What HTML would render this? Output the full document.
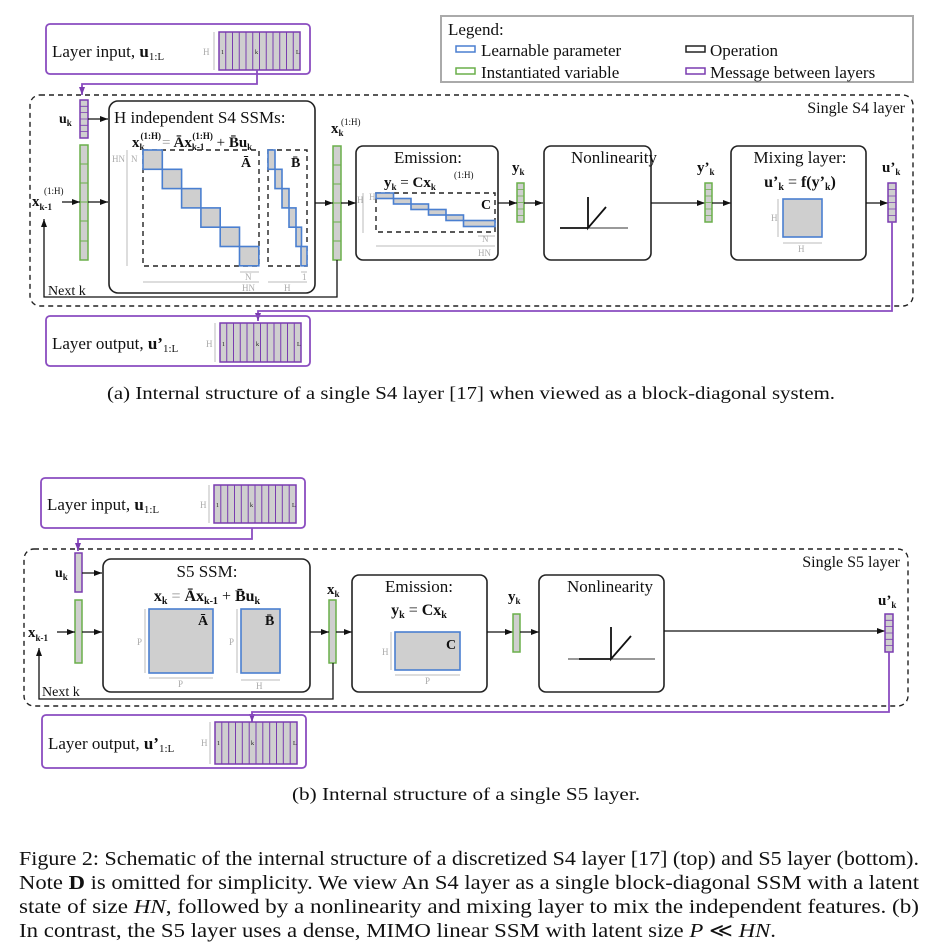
<!DOCTYPE html>
<html><head><meta charset="utf-8"><style>
html,body{margin:0;padding:0;background:#fff;}
svg{display:block;font-family:"Liberation Serif",serif;}
.t{font-size:17px;fill:#111;}
.m{fill:#111;}
.g{font-size:9px;fill:#aaa;}
.b{font-weight:bold;}
.box{fill:none;stroke:#222;stroke-width:1.6;}
.dash{fill:none;stroke:#222;stroke-width:1.4;stroke-dasharray:5,4;}
.pur{fill:none;stroke:#8a4cc0;stroke-width:1.8;}
.ln{fill:none;stroke:#111;stroke-width:1.3;}
.gr{fill:none;stroke:#bbb;stroke-width:1;}
.blu{fill:#cfcfcf;stroke:#4a7fd0;stroke-width:1.6;}
</style></head><body>
<svg width="950" height="950" viewBox="0 0 950 950" xmlns="http://www.w3.org/2000/svg">
<defs>
<marker id="ar" markerWidth="8" markerHeight="6" refX="8" refY="3" orient="auto" markerUnits="userSpaceOnUse"><path d="M0,0L8,3L0,6z" fill="#111"/></marker>
<marker id="ap" markerWidth="8" markerHeight="6" refX="8" refY="3" orient="auto" markerUnits="userSpaceOnUse"><path d="M0,0L8,3L0,6z" fill="#7a3cb0"/></marker>
</defs>

<!-- ============ TOP (a) ============ -->
<rect x="46" y="24" width="264" height="50" rx="4" class="pur"/>
<text x="52" y="57" class="t">Layer input, <tspan class="b">u</tspan><tspan font-size="11" dy="3">1:L</tspan></text>
<path d="M214,32v38" class="gr"/><text x="203" y="55" class="g">H</text>
<g transform="translate(219,32)">
<rect width="81" height="38" fill="#cfcfcf" stroke="#7a3cb0" stroke-width="1.5"/>
<path d="M6.75,0v38M13.5,0v38M20.25,0v38M27,0v38M33.75,0v38M40.5,0v38M47.25,0v38M54,0v38M60.75,0v38M67.5,0v38M74.25,0v38" stroke="#7a3cb0" stroke-width="1"/>
</g>
<text x="221" y="54" font-size="6" fill="#111">1</text><text x="255" y="54" font-size="6" fill="#111">k</text><text x="296" y="54" font-size="6" fill="#111">L</text>
<path d="M257,70V84H82V95" class="pur" marker-end="url(#ap)"/>

<!-- legend -->
<rect x="441" y="16" width="472" height="66" fill="none" stroke="#aaa" stroke-width="2"/>
<text x="448" y="35" class="t">Legend:</text>
<rect x="456" y="46" width="19" height="6" fill="none" stroke="#4a7fd0" stroke-width="1.5"/>
<text x="481" y="56" class="t">Learnable parameter</text>
<rect x="456" y="68" width="19" height="6" fill="none" stroke="#6aaf4a" stroke-width="1.5"/>
<text x="481" y="78" class="t">Instantiated variable</text>
<rect x="686" y="46" width="19" height="6" fill="none" stroke="#222" stroke-width="1.5"/>
<text x="710" y="56" class="t">Operation</text>
<rect x="686" y="68" width="19" height="6" fill="none" stroke="#7a3cb0" stroke-width="1.5"/>
<text x="710" y="78" class="t">Message between layers</text>

<rect x="30" y="95" width="883" height="211" rx="10" class="dash"/>
<text x="905" y="113" class="m" font-size="16" text-anchor="end">Single S4 layer</text>

<!-- u_k, x_{k-1} -->
<text x="59" y="123" class="m b" font-size="14">u<tspan font-size="9" dy="3">k</tspan></text>
<rect x="80" y="100" width="8" height="38" fill="#cfcfcf" stroke="#7a3cb0" stroke-width="1.5"/>
<path d="M80,106.3h8M80,112.6h8M80,119h8M80,125.3h8M80,131.6h8" stroke="#7a3cb0" stroke-width="0.8"/>
<rect x="80" y="145" width="8" height="115" fill="#cfcfcf" stroke="#6aaf4a" stroke-width="1.5"/>
<path d="M80,164h8M80,183h8M80,202h8M80,221h8M80,241h8" stroke="#6aaf4a" stroke-width="1"/>
<text x="32" y="206" class="m b" font-size="15">x<tspan font-size="9" dy="4">k-1</tspan></text>
<text x="44" y="194" font-size="9" fill="#111">(1:H)</text>
<path d="M62,202H80" class="ln" marker-end="url(#ar)"/>
<path d="M88,202H108" class="ln" marker-end="url(#ar)"/>
<path d="M88,119H108" class="ln" marker-end="url(#ar)"/>

<!-- S4 SSMs box -->
<rect x="109" y="101" width="206" height="192" rx="9" class="box"/>
<text x="114" y="123" class="t">H independent S4 SSMs:</text>
<text x="132" y="147" class="m b" font-size="15">x<tspan font-size="9" dy="3">k</tspan><tspan font-size="9" dy="-11" dx="-4">(1:H)</tspan><tspan dy="8" dx="1" font-weight="normal" fill="#999">=</tspan><tspan dx="3">Āx</tspan><tspan font-size="9" dy="3">k-1</tspan><tspan font-size="9" dy="-11" dx="-12">(1:H)</tspan><tspan dy="8" font-weight="normal"> + </tspan><tspan>B̄u</tspan><tspan font-size="9" dy="3">k</tspan></text>
<path d="M127,150v116" class="gr"/><text x="112" y="162" class="g">HN</text><text x="131" y="162" class="g">N</text>
<rect x="143" y="150" width="116" height="116" class="dash"/>
<g class="blu">
<rect x="143" y="150" width="19.3" height="19.3"/><rect x="162.3" y="169.3" width="19.3" height="19.3"/><rect x="181.6" y="188.6" width="19.3" height="19.3"/><rect x="200.9" y="207.9" width="19.3" height="19.3"/><rect x="220.2" y="227.2" width="19.3" height="19.3"/><rect x="239.5" y="246.5" width="19.3" height="19.3"/>
</g>
<text x="241" y="167" class="m b" font-size="14">Ā</text>
<rect x="268" y="150" width="39" height="116" class="dash"/>
<g class="blu">
<rect x="268" y="150" width="7" height="19.3"/><rect x="275" y="169.3" width="7" height="19.3"/><rect x="282" y="188.6" width="7" height="19.3"/><rect x="289" y="207.9" width="7" height="19.3"/><rect x="296" y="227.2" width="5.5" height="19.3"/><rect x="301" y="246.5" width="6" height="19.3"/>
</g>
<text x="291" y="167" class="m b" font-size="14">B̄</text>
<path d="M143,282H259M240,272H259M268,282H307M301,272H307" class="gr"/>
<text x="245" y="280" class="g">N</text><text x="242" y="291" class="g">HN</text><text x="284" y="291" class="g">H</text><text x="302" y="280" class="g">1</text>

<!-- x_k -->
<text x="331" y="133" class="m b" font-size="15">x<tspan font-size="9" dy="3">k</tspan></text>
<text x="341" y="125" font-size="9" fill="#111">(1:H)</text>
<rect x="333" y="146" width="8" height="114" fill="#cfcfcf" stroke="#6aaf4a" stroke-width="1.5"/>
<path d="M333,165h8M333,184h8M333,203h8M333,222h8M333,241h8" stroke="#6aaf4a" stroke-width="1"/>
<path d="M315,203H333" class="ln" marker-end="url(#ar)"/>
<path d="M341,203H356" class="ln" marker-end="url(#ar)"/>
<path d="M337,260V297H44V219" class="ln" marker-end="url(#ar)"/>
<text x="48" y="295" class="m" font-size="14">Next k</text>

<!-- Emission -->
<rect x="356" y="146" width="142" height="114" rx="7" class="box"/>
<text x="428" y="163" class="t" text-anchor="middle">Emission:</text>
<text x="384" y="187" class="m b" font-size="15">y<tspan font-size="9" dy="3">k</tspan><tspan dy="-3" font-weight="normal"> = </tspan>Cx<tspan font-size="9" dy="3">k</tspan></text>
<text x="454" y="178" font-size="9" fill="#111">(1:H)</text>
<path d="M363,193v40" class="gr"/><text x="357" y="203" class="g">H</text><text x="369" y="200" class="g">H</text>
<rect x="376" y="193" width="119" height="39" class="dash"/>
<g class="blu">
<rect x="376" y="193" width="17.5" height="5.5"/><rect x="393.5" y="198.5" width="17.5" height="5.5"/><rect x="411" y="204" width="17.5" height="5.5"/><rect x="428.5" y="209.5" width="17.5" height="5.5"/><rect x="446" y="215" width="17.5" height="5.5"/><rect x="463.5" y="220.5" width="31.5" height="6"/>
</g>
<text x="481" y="209" class="m b" font-size="14">C</text>
<path d="M376,246H495M478,236H495" class="gr"/><text x="482" y="242" class="g">N</text><text x="478" y="256" class="g">HN</text>

<!-- y_k -->
<text x="512" y="172" class="m b" font-size="15">y<tspan font-size="9" dy="3">k</tspan></text>
<rect x="517" y="183" width="7" height="39" fill="#cfcfcf" stroke="#6aaf4a" stroke-width="1.5"/>
<path d="M517,189.5h7M517,196h7M517,202.5h7M517,209h7M517,215.5h7" stroke="#6aaf4a" stroke-width="0.8"/>
<path d="M498,203H517" class="ln" marker-end="url(#ar)"/>
<path d="M524,203H543" class="ln" marker-end="url(#ar)"/>

<!-- Nonlinearity -->
<rect x="544" y="146" width="107" height="114" rx="7" class="box"/>
<text x="614" y="163" class="t" text-anchor="middle">Nonlinearity</text>
<path d="M570,228H628" stroke="#333" stroke-width="1"/>
<path d="M560,228H588M588,197V228L606,207" stroke="#111" stroke-width="1.8" fill="none"/>
<path d="M651,203H705" class="ln" marker-end="url(#ar)"/>

<!-- y'_k -->
<text x="697" y="172" class="m b" font-size="15">y’<tspan font-size="9" dy="3">k</tspan></text>
<rect x="705" y="183" width="7" height="39" fill="#cfcfcf" stroke="#6aaf4a" stroke-width="1.5"/>
<path d="M705,189.5h7M705,196h7M705,202.5h7M705,209h7M705,215.5h7" stroke="#6aaf4a" stroke-width="0.8"/>
<path d="M712,203H731" class="ln" marker-end="url(#ar)"/>

<!-- Mixing -->
<rect x="731" y="146" width="135" height="114" rx="7" class="box"/>
<text x="800" y="163" class="t" text-anchor="middle">Mixing layer:</text>
<text x="800" y="187" class="m b" font-size="16" text-anchor="middle">u’<tspan font-size="10" dy="3">k</tspan><tspan dy="-3" font-weight="normal"> = </tspan>f(y’<tspan font-size="10" dy="3">k</tspan><tspan dy="-3">)</tspan></text>
<rect x="783" y="199" width="39" height="38" class="blu"/>
<path d="M778,199v38M783,243H822" class="gr"/><text x="771" y="221" class="g">H</text><text x="798" y="252" class="g">H</text>
<path d="M866,203H888" class="ln" marker-end="url(#ar)"/>

<!-- u'_k -->
<text x="882" y="172" class="m b" font-size="15">u’<tspan font-size="9" dy="3">k</tspan></text>
<rect x="888" y="183" width="8" height="39" fill="#cfcfcf" stroke="#7a3cb0" stroke-width="1.5"/>
<path d="M888,189.5h8M888,196h8M888,202.5h8M888,209h8M888,215.5h8" stroke="#7a3cb0" stroke-width="0.8"/>
<path d="M892,222V311H258V321" class="pur" stroke-width="1.3" marker-end="url(#ap)"/>

<!-- Layer output -->
<rect x="46" y="316" width="264" height="50" rx="4" class="pur"/>
<text x="52" y="349" class="t">Layer output, <tspan class="b">u’</tspan><tspan font-size="11" dy="3">1:L</tspan></text>
<path d="M215,323v39" class="gr"/><text x="206" y="347" class="g">H</text>
<g transform="translate(220,323)">
<rect width="81" height="39" fill="#cfcfcf" stroke="#7a3cb0" stroke-width="1.5"/>
<path d="M6.75,0v39M13.5,0v39M20.25,0v39M27,0v39M33.75,0v39M40.5,0v39M47.25,0v39M54,0v39M60.75,0v39M67.5,0v39M74.25,0v39" stroke="#7a3cb0" stroke-width="1"/>
</g>
<text x="222" y="346" font-size="6" fill="#111">1</text><text x="256" y="346" font-size="6" fill="#111">k</text><text x="297" y="346" font-size="6" fill="#111">L</text>

<text x="107" y="399" class="m" font-size="18" textLength="728" lengthAdjust="spacingAndGlyphs">(a) Internal structure of a single S4 layer [17] when viewed as a block-diagonal system.</text>

<!-- ============ BOTTOM (b) ============ -->
<rect x="41" y="478" width="264" height="50" rx="4" class="pur"/>
<text x="47" y="510" class="t">Layer input, <tspan class="b">u</tspan><tspan font-size="11" dy="3">1:L</tspan></text>
<path d="M209,485v38" class="gr"/><text x="200" y="508" class="g">H</text>
<g transform="translate(214,485)">
<rect width="82" height="38" fill="#cfcfcf" stroke="#7a3cb0" stroke-width="1.5"/>
<path d="M6.8,0v38M13.7,0v38M20.5,0v38M27.3,0v38M34.2,0v38M41,0v38M47.8,0v38M54.7,0v38M61.5,0v38M68.3,0v38M75.2,0v38" stroke="#7a3cb0" stroke-width="1"/>
</g>
<text x="216" y="507" font-size="6" fill="#111">1</text><text x="250" y="507" font-size="6" fill="#111">k</text><text x="292" y="507" font-size="6" fill="#111">L</text>
<path d="M252,528V539H78V551" class="pur" marker-end="url(#ap)"/>

<rect x="24" y="549" width="884" height="157" rx="10" class="dash"/>
<text x="900" y="567" class="m" font-size="16" text-anchor="end">Single S5 layer</text>

<text x="55" y="577" class="m b" font-size="14">u<tspan font-size="9" dy="3">k</tspan></text>
<rect x="75" y="553" width="7" height="39" fill="#cfcfcf" stroke="#7a3cb0" stroke-width="1.5"/>
<rect x="75" y="600" width="7" height="63" fill="#cfcfcf" stroke="#6aaf4a" stroke-width="1.5"/>
<text x="28" y="637" class="m b" font-size="15">x<tspan font-size="9" dy="4">k-1</tspan></text>
<path d="M57,632H75" class="ln" marker-end="url(#ar)"/>
<path d="M82,632H102" class="ln" marker-end="url(#ar)"/>
<path d="M82,573H102" class="ln" marker-end="url(#ar)"/>

<rect x="103" y="559" width="207" height="133" rx="8" class="box"/>
<text x="207" y="577" class="t" text-anchor="middle">S5 SSM:</text>
<text x="207" y="601" class="m b" font-size="16" text-anchor="middle">x<tspan font-size="10" dy="3">k</tspan><tspan dy="-3" font-weight="normal" fill="#888"> = </tspan>Āx<tspan font-size="10" dy="3">k-1</tspan><tspan dy="-3" font-weight="normal"> + </tspan>B̄u<tspan font-size="10" dy="3">k</tspan></text>
<rect x="149" y="609" width="64" height="64" class="blu"/>
<text x="198" y="625" class="m b" font-size="14">Ā</text>
<path d="M145,609v64M149,678H213" class="gr"/><text x="137" y="645" class="g">P</text><text x="178" y="687" class="g">P</text>
<rect x="241" y="609" width="39" height="64" class="blu"/>
<text x="265" y="625" class="m b" font-size="14">B̄</text>
<path d="M237,609v64M241,680H280" class="gr"/><text x="229" y="645" class="g">P</text><text x="256" y="689" class="g">H</text>

<text x="327" y="594" class="m b" font-size="15">x<tspan font-size="9" dy="3">k</tspan></text>
<rect x="329" y="600" width="7" height="63" fill="#cfcfcf" stroke="#6aaf4a" stroke-width="1.5"/>
<path d="M310,632H329" class="ln" marker-end="url(#ar)"/>
<path d="M336,632H352" class="ln" marker-end="url(#ar)"/>
<path d="M333,663V699H39V648" class="ln" marker-end="url(#ar)"/>
<text x="42" y="696" class="m" font-size="14">Next k</text>

<rect x="352" y="575" width="135" height="117" rx="7" class="box"/>
<text x="419" y="592" class="t" text-anchor="middle">Emission:</text>
<text x="419" y="615" class="m b" font-size="16" text-anchor="middle">y<tspan font-size="10" dy="3">k</tspan><tspan dy="-3" font-weight="normal"> = </tspan>Cx<tspan font-size="10" dy="3">k</tspan></text>
<rect x="395" y="632" width="65" height="38" class="blu"/>
<text x="446" y="649" class="m b" font-size="14">C</text>
<path d="M391,632v38M395,675H460" class="gr"/><text x="382" y="655" class="g">H</text><text x="425" y="684" class="g">P</text>
<path d="M487,632H513" class="ln" marker-end="url(#ar)"/>

<text x="508" y="601" class="m b" font-size="15">y<tspan font-size="9" dy="3">k</tspan></text>
<rect x="513" y="614" width="7" height="38" fill="#cfcfcf" stroke="#6aaf4a" stroke-width="1.5"/>
<path d="M520,632H539" class="ln" marker-end="url(#ar)"/>

<rect x="539" y="575" width="125" height="117" rx="7" class="box"/>
<text x="610" y="592" class="t" text-anchor="middle">Nonlinearity</text>
<path d="M568,659H655" stroke="#333" stroke-width="1"/>
<path d="M579,659H611M611,627V659L631,636" stroke="#111" stroke-width="1.8" fill="none"/>
<path d="M664,631H885" class="ln" marker-end="url(#ar)"/>

<text x="878" y="605" class="m b" font-size="15">u’<tspan font-size="9" dy="3">k</tspan></text>
<rect x="885" y="614" width="8" height="38" fill="#cfcfcf" stroke="#7a3cb0" stroke-width="1.5"/>
<path d="M885,620.3h8M885,626.6h8M885,633h8M885,639.3h8M885,645.6h8" stroke="#7a3cb0" stroke-width="0.8"/>
<path d="M889,652V712H252V722" class="pur" stroke-width="1.3" marker-end="url(#ap)"/>

<rect x="42" y="715" width="264" height="53" rx="4" class="pur"/>
<text x="48" y="749" class="t">Layer output, <tspan class="b">u’</tspan><tspan font-size="11" dy="3">1:L</tspan></text>
<path d="M210,722v42" class="gr"/><text x="201" y="746" class="g">H</text>
<g transform="translate(215,722)">
<rect width="82" height="42" fill="#cfcfcf" stroke="#7a3cb0" stroke-width="1.5"/>
<path d="M6.8,0v42M13.7,0v42M20.5,0v42M27.3,0v42M34.2,0v42M41,0v42M47.8,0v42M54.7,0v42M61.5,0v42M68.3,0v42M75.2,0v42" stroke="#7a3cb0" stroke-width="1"/>
</g>
<text x="217" y="745" font-size="6" fill="#111">1</text><text x="251" y="745" font-size="6" fill="#111">k</text><text x="293" y="745" font-size="6" fill="#111">L</text>

<text x="292" y="800" class="m" font-size="18" textLength="348" lengthAdjust="spacingAndGlyphs">(b) Internal structure of a single S5 layer.</text>

<!-- caption -->
<text x="19" y="865" class="m" font-size="20" textLength="900" lengthAdjust="spacingAndGlyphs">Figure 2: Schematic of the internal structure of a discretized S4 layer [17] (top) and S5 layer (bottom).</text>
<text x="19" y="889" class="m" font-size="20" textLength="900" lengthAdjust="spacingAndGlyphs">Note <tspan class="b">D</tspan> is omitted for simplicity. We view An S4 layer as a single block-diagonal SSM with a latent</text>
<text x="19" y="913" class="m" font-size="20" textLength="900" lengthAdjust="spacingAndGlyphs">state of size <tspan font-style="italic">HN</tspan>, followed by a nonlinearity and mixing layer to mix the independent features. (b)</text>
<text x="19" y="937" class="m" font-size="20" textLength="757" lengthAdjust="spacingAndGlyphs">In contrast, the S5 layer uses a dense, MIMO linear SSM with latent size <tspan font-style="italic">P</tspan> ≪ <tspan font-style="italic">HN</tspan>.</text>
</svg>
</body></html>
